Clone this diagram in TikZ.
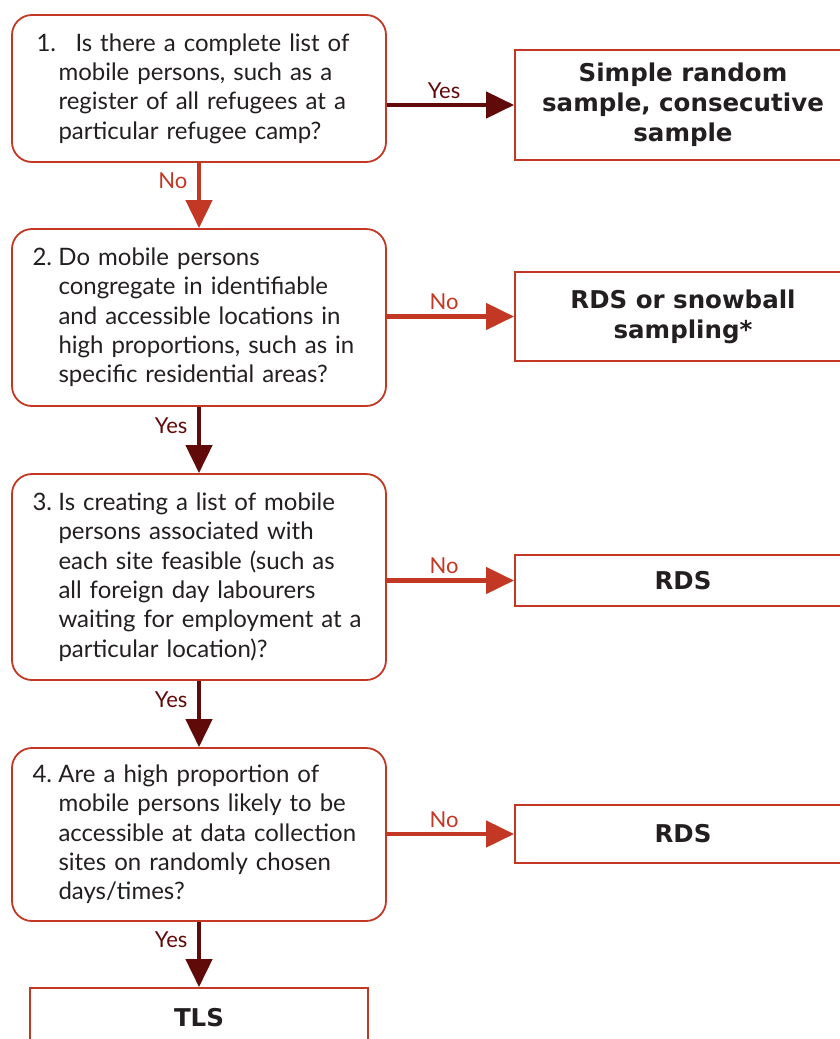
\documentclass[tikz,border=0pt]{standalone}
\usepackage{fontspec}
\setmainfont{Lato}
\newfontfamily\boldface{DejaVu Sans}
\usetikzlibrary{arrows.meta,calc}
\definecolor{boxred}{RGB}{194,56,36}
\definecolor{darkred}{RGB}{96,10,10}
\definecolor{txt}{RGB}{35,31,32}
\tikzset{
  qbox/.style={draw=boxred, line width=1.8pt, rounded corners=20pt, minimum width=374pt, text width=333pt, inner xsep=20.5pt, align=left, font=\fontsize{24}{29.3}\selectfont, text=txt},
  abox/.style={draw=boxred, line width=1.8pt, minimum width=336pt, align=center, font=\boldface\fontsize{24.5}{30}\selectfont\bfseries, text=txt},
  noarrow/.style={draw=boxred, line width=4.5pt, -{Triangle[length=28pt,width=26pt]}},
  yesarrow/.style={draw=darkred, line width=4.5pt, -{Triangle[length=28pt,width=26pt]}},
  nolab/.style={text=boxred, font=\fontsize{22}{24}\selectfont},
  yeslab/.style={text=darkred, font=\fontsize{22}{24}\selectfont},
}
\begin{document}
\begin{tikzpicture}[x=1pt,y=-1pt]
\useasboundingbox (0,0) rectangle (839,1039);
\node[qbox, minimum height=147pt] (q1) at (199,88.5) {\hspace*{4pt}\makebox[39pt][l]{1.}Is there a complete list of\\[-\baselineskip]\hspace*{26pt}\parbox[t]{300pt}{\raggedright\leavevmode\\mobile persons, such as a\\register of all refugees at a\\particular refugee camp?}};
\node[qbox, minimum height=177pt] (q2) at (199,317.5) {\makebox[26pt][l]{2.}\parbox[t]{305pt}{\raggedright Do mobile persons\\congregate in identifiable\\and accessible locations in\\high proportions, such as in\\specific residential areas?}};
\node[qbox, minimum height=206pt] (q3) at (199,577) {\makebox[26pt][l]{3.}\parbox[t]{305pt}{\raggedright Is creating a list of mobile\\persons associated with\\each site feasible (such as\\all foreign day labourers\\waiting for employment at a\\particular location)?}};
\node[qbox, minimum height=173pt] (q4) at (199,834.5) {\makebox[26pt][l]{4.}\parbox[t]{305pt}{\raggedright Are a high proportion of\\mobile persons likely to be\\accessible at data collection\\sites on randomly chosen\\days/times?}};
\node[abox, minimum height=110pt] (r1) at (683,105) {Simple random\\sample, consecutive\\sample};
\node[abox, minimum height=89pt] (r2) at (683,316.5) {RDS or snowball\\sampling*};
\node[abox, minimum height=51pt] (r3) at (683,580.5) {RDS};
\node[abox, minimum height=58pt] (r4) at (683,834) {RDS};
\node[abox, minimum width=338pt, minimum height=60pt] (tls) at (199,1018) {TLS};
\draw[noarrow] (q1.south) -- (q2.north) node[nolab, pos=0.27, left=6pt] {No};
\draw[yesarrow] (q2.south) -- (q3.north) node[yeslab, pos=0.28, left=6pt] {Yes};
\draw[yesarrow] (q3.south) -- (q4.north) node[yeslab, pos=0.28, left=6pt] {Yes};
\draw[yesarrow] (q4.south) -- (tls.north) node[yeslab, pos=0.27, left=6pt] {Yes};
\draw[yesarrow] (q1.east |- r1.west) -- (r1.west) node[yeslab, pos=0.45, above=1pt] {Yes};
\draw[noarrow] (q2.east |- r2.west) -- (r2.west) node[nolab, pos=0.45, above=1pt] {No};
\draw[noarrow] (q3.east |- r3.west) -- (r3.west) node[nolab, pos=0.45, above=1pt] {No};
\draw[noarrow] (q4.east |- r4.west) -- (r4.west) node[nolab, pos=0.45, above=1pt] {No};
\end{tikzpicture}
\end{document}
